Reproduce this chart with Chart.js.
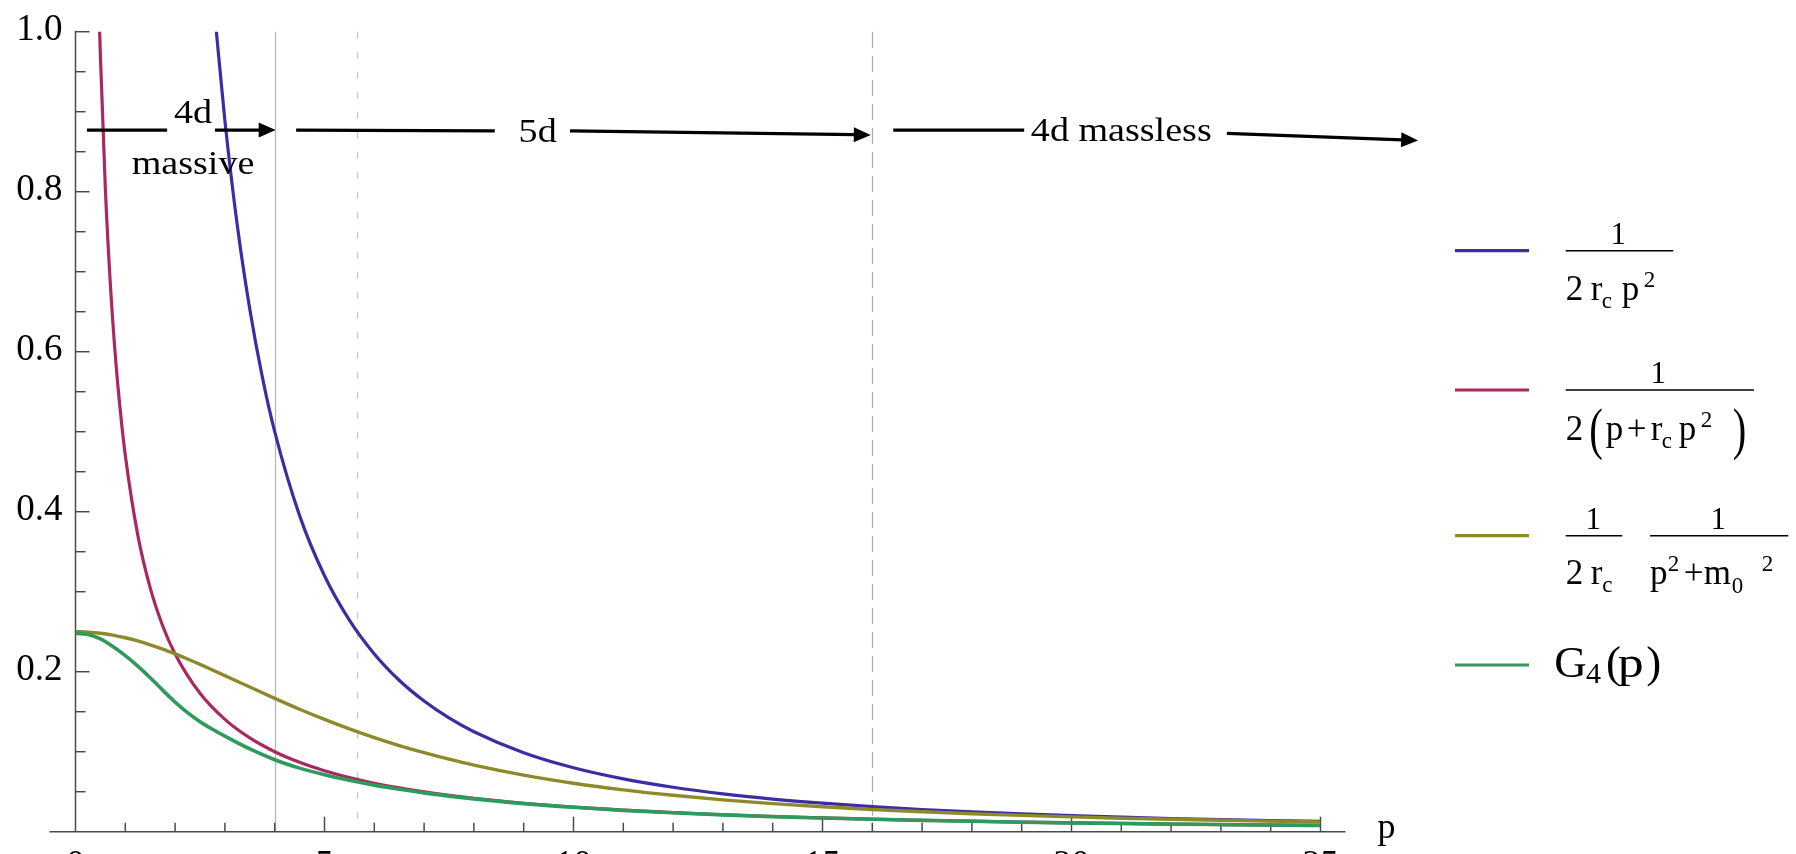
<!DOCTYPE html>
<html><head><meta charset="utf-8">
<script src="https://cdn.jsdelivr.net/npm/chart.js@4/dist/chart.umd.min.js"></script>
<style>html,body{margin:0;padding:0;background:#fff;overflow:hidden}#wrap{width:1796px;height:854px;position:relative}</style>
</head><body><div id="wrap"><canvas id="c" width="1796" height="854"></canvas></div>
<script>
// ---------------- data ----------------
const P_GRID = [0,0.25,0.5,0.75,1,1.25,1.5,1.75,2,2.25,2.5,2.75,3,3.5,4,4.5,5,5.5,6,6.5,7,7.5,8,9,10,11,12,13,14,15,16,17,18,19,20,21,22,23,24,25];
const OLIVE = [0.25,0.2495,0.2481,0.2457,0.2424,0.2384,0.2336,0.2282,0.2222,0.2159,0.2092,0.2022,0.1951,0.1808,0.1667,0.1531,0.1404,0.1285,0.1176,0.1077,0.0988,0.0907,0.0833,0.0708,0.0606,0.0523,0.0455,0.0398,0.0351,0.0311,0.0278,0.0249,0.0225,0.0204,0.0185,0.0169,0.0155,0.0143,0.0132,0.0122];
const GREEN = [0.248,0.2465,0.241,0.2315,0.220,0.207,0.1925,0.177,0.162,0.1488,0.1375,0.128,0.1195,0.1035,0.090,0.0795,0.0712,0.0642,0.0582,0.0532,0.0485,0.0445,0.041,0.0351,0.0305,0.0267,0.0236,0.021,0.0188,0.0171,0.0155,0.0142,0.013,0.0119,0.011,0.0102,0.0095,0.0089,0.0083,0.0078];
const P_MAG = [0.48,0.5,0.6,0.7,0.8,0.9,1,1.25,1.5,1.75,2,2.5,3,3.5,4,4.5,5,5.5,6,6.5,7,7.5,8,9,10,11,12,13,14,15,16,17,18,19,20,21,22,23,24,25];
const MAGENTA = [1.011,0.970,0.803,0.6843,0.5952,0.526,0.4706,0.371,0.3048,0.2575,0.2222,0.173,0.1404,0.1172,0.1,0.0867,0.0762,0.0677,0.0606,0.0547,0.0497,0.0454,0.0417,0.0356,0.0308,0.0269,0.0238,0.0212,0.019,0.0172,0.0156,0.0143,0.0131,0.012,0.0111,0.0103,0.0096,0.0089,0.0083,0.0078];
const P_BLUE = [2.82,3,3.25,3.5,3.75,4,4.5,5,5.5,6,6.5,7,7.5,8,9,10,11,12,13,14,15,16,17,18,19,20,21,22,23,24,25];
const BLUE = [1.006,0.8889,0.7574,0.6531,0.5689,0.5,0.3951,0.32,0.2645,0.2222,0.1893,0.1633,0.1422,0.125,0.0988,0.08,0.0661,0.0556,0.0473,0.0408,0.0356,0.0313,0.0277,0.0247,0.0222,0.02,0.0181,0.0165,0.0151,0.0139,0.0128];
const X_TICKS = [0,5,10,15,20,25];
const Y_TICKS = [0.2,0.4,0.6,0.8,1.0];
const MARKER_P = [4, 5.657, 16];           // vertical reference lines
const REGION_LABELS = ['4d', 'massive', '5d', '4d massless'];

// ---------------- styling / layout ----------------
const SERIF = "'Liberation Serif', 'DejaVu Serif', serif";
const SX = 1.12;
const COLORS = {blue:'#3a2ea2', magenta:'#a8285f', olive:'#8e8a2c', green:'#2f9a5c'};
const pts = (xs, ys) => xs.map((x, i) => ({x, y: ys[i]}));

function txt(ctx, s, x, y, size, align, sx) {
  ctx.save();
  ctx.font = size + 'px ' + SERIF;
  ctx.textAlign = align || 'left';
  ctx.textBaseline = 'alphabetic';
  ctx.fillStyle = '#000';
  ctx.translate(x, y);
  ctx.scale(sx || SX, 1);
  ctx.fillText(s, 0, 0);
  ctx.restore();
}

const decor = {
  id: 'decor',
  beforeDatasetsDraw(chart) {
    const {ctx, scales: {x, y}} = chart;
    const y0 = y.getPixelForValue(0), y1 = y.getPixelForValue(1), x0 = x.getPixelForValue(0), x25 = x.getPixelForValue(25);
    ctx.save();
    const styles = [{c:'#b4b4b4', d:[]}, {c:'#c4c4c4', d:[7,13]}, {c:'#a8a8a8', d:[16,8]}];
    MARKER_P.forEach((p, i) => {
      const px = Math.round(x.getPixelForValue(p)) + 0.5;
      ctx.strokeStyle = styles[i].c; ctx.lineWidth = 1.2; ctx.setLineDash(styles[i].d);
      ctx.beginPath(); ctx.moveTo(px, y1); ctx.lineTo(px, y0); ctx.stroke();
    });
    ctx.setLineDash([]);
    ctx.strokeStyle = '#4a4a4a'; ctx.lineWidth = 1.5;
    ctx.beginPath(); ctx.moveTo(x0 - 26, y0); ctx.lineTo(x25 + 25, y0); ctx.stroke();
    ctx.beginPath(); ctx.moveTo(x0, y1 - 1); ctx.lineTo(x0, y0); ctx.stroke();
    for (let v = 1; v <= 25; v++) {
      const px = x.getPixelForValue(v), len = v % 5 === 0 ? 15 : 9;
      ctx.beginPath(); ctx.moveTo(px, y0); ctx.lineTo(px, y0 - len); ctx.stroke();
    }
    for (let k = 1; k <= 20; k++) {
      const py = y.getPixelForValue(k * 0.05), len = k % 4 === 0 ? 14 : 10;
      ctx.beginPath(); ctx.moveTo(x0, py); ctx.lineTo(x0 + len, py); ctx.stroke();
    }
    ctx.restore();
  },
  afterDatasetsDraw(chart) {
    const {ctx, scales: {x, y}, chartArea} = chart;
    const X = v => x.getPixelForValue(v), Y = v => y.getPixelForValue(v);
    ctx.save();
    txt(ctx, 'p', X(25) + 57, Y(0) + 6, 36, 'left', 1.0);
    const arrows = [
      {a:0.23, b:1.84, ya:0.877, yb:0.877, head:false},
      {a:2.80, b:4.02, ya:0.877, yb:0.877, head:true},
      {a:4.43, b:8.42, ya:0.877, yb:0.876, head:false},
      {a:9.93, b:15.97, ya:0.876, yb:0.871, head:true},
      {a:16.42, b:19.05, ya:0.877, yb:0.877, head:false},
      {a:23.12, b:26.96, ya:0.873, yb:0.864, head:true}
    ];
    ctx.strokeStyle = '#000'; ctx.fillStyle = '#000'; ctx.lineWidth = 3.2; ctx.lineCap = 'butt';
    arrows.forEach(ar => {
      const xa = X(ar.a), xb = X(ar.b), ya = Y(ar.ya), yb = Y(ar.yb);
      const ang = Math.atan2(yb - ya, xb - xa);
      const L = ar.head ? 16 : 0;
      ctx.beginPath(); ctx.moveTo(xa, ya);
      ctx.lineTo(xb - L * Math.cos(ang), yb - L * Math.sin(ang)); ctx.stroke();
      if (ar.head) {
        ctx.beginPath();
        ctx.moveTo(xb, yb);
        ctx.lineTo(xb - 17 * Math.cos(ang) + 7.5 * Math.sin(ang), yb - 17 * Math.sin(ang) - 7.5 * Math.cos(ang));
        ctx.lineTo(xb - 17 * Math.cos(ang) - 7.5 * Math.sin(ang), yb - 17 * Math.sin(ang) + 7.5 * Math.cos(ang));
        ctx.closePath(); ctx.fill();
      }
    });
    const labs = [[2.36, 0.886], [2.36, 0.822], [9.28, 0.8625], [21.0, 0.863]];
    REGION_LABELS.forEach((s, i) => txt(ctx, s, X(labs[i][0]), Y(labs[i][1]), 34, 'center'));

    // legend
    const lx0 = chartArea.right + 134.5, lx1 = chartArea.right + 208.5, fx = chartArea.right + 245.2;
    const M = 35, N = 31, S = 23, B = 49;
    const rows = [
      {y:250.7, ds:0, bars:[[0,107.6]], tok:[
        ['1',52.6,-7,N,'center'],['2',0,B,M],['r',25,B,M],['c',36,B+8,S],['p',56,B,M],['2',78,B-13,S]]},
      {y:390, ds:1, bars:[[0,188.3]], tok:[
        ['1',92.6,-7,N,'center'],['2',0,B+1,M],['(',23.5,57.5,58,'left',0.7],['p',40,B+1,M],['+',61,B+1,M],
        ['r',85,B+1,M],['c',96,B+9,S],['p',113,B+1,M],['2',135,B-12,S],[')',167,57.5,58,'left',0.7]]},
      {y:535.7, ds:2, bars:[[0,56.6],[84.3,222.6]], tok:[
        ['1',27.6,-7,N,'center'],['2',0,B-1,M],['r',25,B-1,M],['c',36.5,B+7,S],
        ['1',152.6,-7,N,'center'],['p',84.3,B-1,M],['2',102,B-14,S],['+',118,B-1,M],['m',138,B-1,M],['0',166,B+8,S],['2',196,B-14,S]]},
      {y:665, ds:3, bars:[], tok:[
        ['G',-11.5,12,45,'left',1.0],['4',20.3,18,30,'left',1.0],['(',40.3,12,45,'left',1.0],['p',52,12,45,'left',1.15],[')',80.5,12,45,'left',1.0]]}
    ];
    rows.forEach(r => {
      const d = chart.data.datasets[r.ds];
      ctx.strokeStyle = d.borderColor; ctx.lineWidth = 3.2;
      ctx.beginPath(); ctx.moveTo(lx0, r.y); ctx.lineTo(lx1, r.y); ctx.stroke();
      ctx.strokeStyle = '#000'; ctx.lineWidth = 1.5;
      r.bars.forEach(b => { ctx.beginPath(); ctx.moveTo(fx + b[0], r.y); ctx.lineTo(fx + b[1], r.y); ctx.stroke(); });
      r.tok.forEach(t => txt(ctx, t[0], fx + t[1], r.y + t[2], t[3], t[4] || 'left', t[5] || 1.0));
    });
    ctx.restore();
  }
};

new Chart(document.getElementById('c'), {
  type: 'scatter',
  data: {
    datasets: [
      {label:'1/(2 r_c p^2)', data: pts(P_BLUE, BLUE), borderColor: COLORS.blue, order: 4, borderWidth: 3.2},
      {label:'1/(2(p + r_c p^2))', data: pts(P_MAG, MAGENTA), borderColor: COLORS.magenta, order: 3, borderWidth: 3.2},
      {label:'1/(2 r_c) 1/(p^2+m0^2)', data: pts(P_GRID, OLIVE), borderColor: COLORS.olive, order: 2, borderWidth: 3.4},
      {label:'G4(p)', data: pts(P_GRID, GREEN), borderColor: COLORS.green, order: 1, borderWidth: 3.6}
    ].map(d => Object.assign(d, {showLine: true, pointRadius: 0, cubicInterpolationMode: 'monotone', fill: false}))
  },
  options: {
    responsive: false, animation: false, devicePixelRatio: 1,
    layout: {padding: {left: 0, top: 31.7, right: 475.5, bottom: 0}},
    plugins: {legend: {display: false}, tooltip: {enabled: false}},
    scales: {
      x: {type: 'linear', position: 'bottom', min: 0, max: 25,
        afterFit: s => { s.height = 22.3; s.paddingLeft = 0; s.paddingRight = 0; },
        afterBuildTicks: s => { s.ticks = X_TICKS.map(v => ({value: v})); },
        grid: {display: false, drawTicks: false}, border: {display: false},
        ticks: {padding: 12, color: '#000', maxRotation: 0, autoSkip: false, font: {family: SERIF, size: 36}}},
      y: {type: 'linear', min: 0, max: 1,
        afterFit: s => { s.width = 75.5; s.paddingTop = 0; s.paddingBottom = 0; },
        afterBuildTicks: s => { s.ticks = Y_TICKS.map(v => ({value: v})); },
        grid: {display: false, drawTicks: false}, border: {display: false},
        ticks: {padding: 13, labelOffset: -1.5, color: '#000', font: {family: SERIF, size: 37},
          callback: v => v.toFixed(1)}}
    }
  },
  plugins: [decor]
});
</script></body></html>
